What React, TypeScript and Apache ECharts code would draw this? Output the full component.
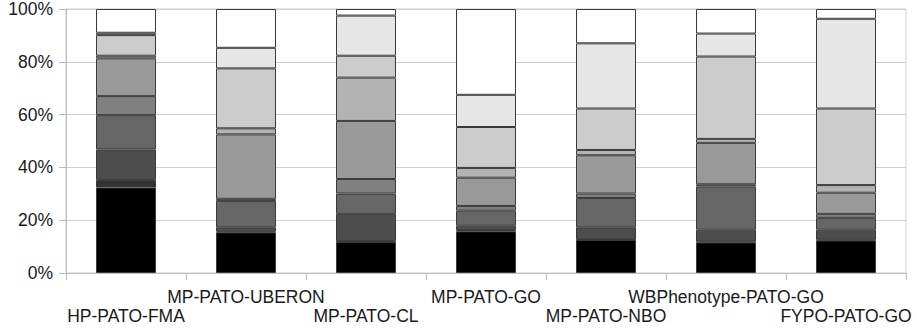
import React, { useEffect, useRef } from "react";
import * as echarts from "echarts";

const categories = [
  "HP-PATO-FMA",
  "MP-PATO-UBERON",
  "MP-PATO-CL",
  "MP-PATO-GO",
  "MP-PATO-NBO",
  "WBPhenotype-PATO-GO",
  "FYPO-PATO-GO",
];

const s1 = [32.4, 15.4, 11.8, 15.8, 12.5, 11.6, 12.3];
const s2 = [2.8, 0.4, 0.3, 0.5, 0.3, 0.3, 0.3];
const s3 = [11.6, 1.5, 10.3, 1.6, 4.5, 4.5, 3.8];
const s4 = [13.0, 10.0, 7.7, 5.7, 11.1, 16.4, 4.5];
const s5 = [7.2, 0.8, 5.5, 1.8, 1.7, 0.8, 1.5];
const s6 = [14.3, 24.4, 22.0, 10.7, 14.5, 15.7, 8.0];
const s7 = [1.0, 2.3, 16.4, 3.7, 2.0, 1.5, 2.9];
const s8 = [7.8, 22.7, 8.3, 15.5, 15.7, 31.2, 29.0];
const s9 = [0.9, 7.8, 15.2, 12.2, 24.7, 8.7, 34.0];
const s10 = [9.0, 14.7, 2.5, 32.5, 13.0, 9.3, 3.7];

const seriesValues = [s1, s2, s3, s4, s5, s6, s7, s8, s9, s10];
const seriesColors = [
  "#000000",
  "#333333",
  "#4d4d4d",
  "#666666",
  "#808080",
  "#999999",
  "#b3b3b3",
  "#cccccc",
  "#e6e6e6",
  "#ffffff",
];

const yTicks = { min: 0, max: 100, interval: 20 };

export default function App() {
  const ref = useRef<HTMLDivElement>(null);
  useEffect(() => {
    document.body.style.margin = "0";
    if (!ref.current) return;
    const chart = echarts.init(ref.current, undefined, { renderer: "svg" });
    const font = "'Liberation Sans', Arial, sans-serif";
    chart.setOption({
      animation: false,
      grid: {
        left: 66,
        right: 11,
        top: 6,
        bottom: 55,
        show: true,
        borderColor: "#cfcfcf",
        borderWidth: 1,
      },
      xAxis: {
        type: "category",
        data: categories,
        axisLine: { lineStyle: { color: "#bdbdbd", width: 1 } },
        axisTick: { show: true, length: 7, lineStyle: { color: "#bdbdbd" } },
        axisLabel: {
          interval: 0,
          margin: 14,
          fontSize: 17.5,
          lineHeight: 19,
          color: "#1a1a1a",
          fontFamily: font,
          formatter: (v: string, i: number) => (i % 2 === 0 ? "\n" + v : v + "\n"),
        },
        splitLine: { show: false },
      },
      yAxis: {
        type: "value",
        min: yTicks.min,
        max: yTicks.max,
        interval: yTicks.interval,
        axisLine: { show: true, lineStyle: { color: "#bdbdbd", width: 1 } },
        axisTick: { show: true, length: 7, lineStyle: { color: "#bdbdbd" } },
        axisLabel: {
          margin: 13,
          fontSize: 17.5,
          color: "#1a1a1a",
          fontFamily: font,
          formatter: "{value}%",
        },
        splitLine: { show: true, lineStyle: { color: "#cfcfcf", width: 1 } },
      },
      series: seriesValues.map((vals, idx) => ({
        type: "bar",
        stack: "total",
        barWidth: 60,
        data: vals,
        itemStyle: {
          color: seriesColors[idx],
          borderColor: "#3a3a3a",
          borderWidth: 1,
        },
      })),
    });
    return () => chart.dispose();
  }, []);
  return <div ref={ref} style={{ width: 917, height: 328 }} />;
}
